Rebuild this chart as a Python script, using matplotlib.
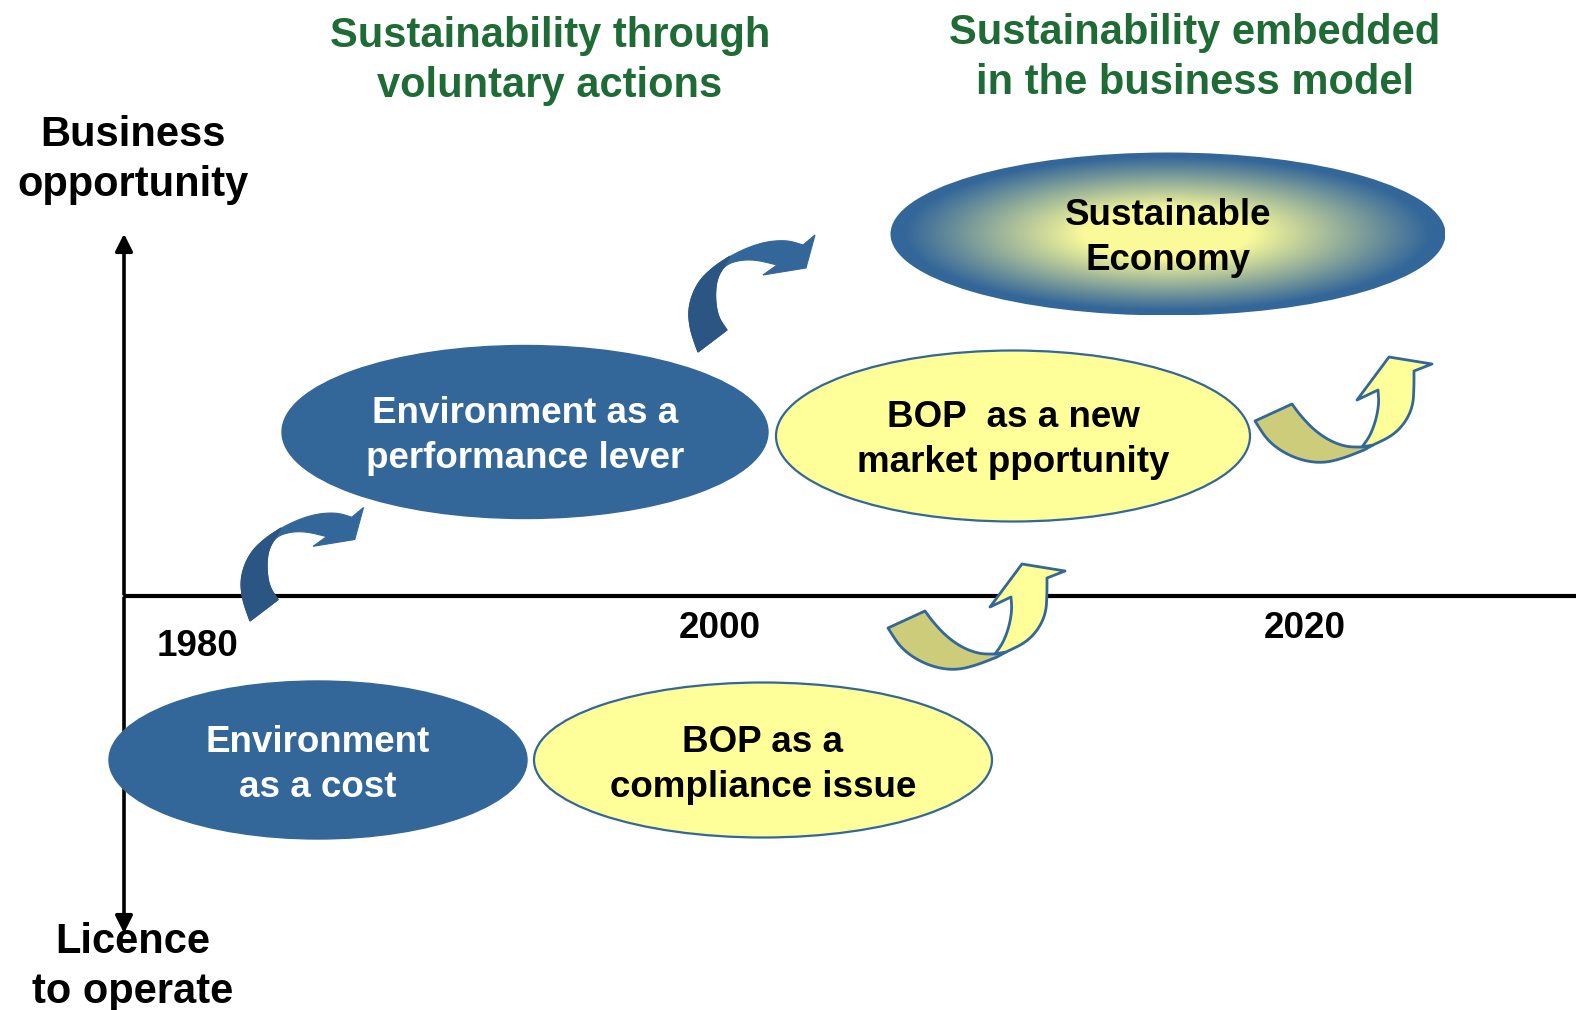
import numpy as np
import matplotlib.pyplot as plt
from matplotlib.patches import Ellipse, Polygon
from matplotlib.colors import LinearSegmentedColormap

# Stages of the diagram (pixel coordinates, y downwards)
stage_labels = ["Environment\nas a cost", "BOP as a\ncompliance issue",
                "Environment as a\nperformance lever", "BOP  as a new\nmarket pportunity",
                "Sustainable\nEconomy"]
stage_x = [318, 763, 525, 1013, 1168]
stage_y = [760, 760, 432, 436, 234]
stage_w = [418, 458, 486, 474, 555]
stage_h = [158, 155, 173, 171, 163]
stage_kind = ["blue", "yellow", "blue", "yellow", "gradient"]
stage_text_y = [765, 765, 436, 440, 238]

# Years along the horizontal axis
year_labels = ["1980", "2000", "2020"]
year_x = [198, 720, 1305]
year_y = [647, 629, 629]

# Headers
header_labels = ["Sustainability through\nvoluntary actions",
                 "Sustainability embedded\nin the business model"]
header_x = [550, 1195]
header_y = [61, 58]

# Curved arrows: offsets of the shape templates
blue_arrow_pos = [(-448, 269, 0.97), (0, 0, 1.0)]
yellow_arrow_pos = [(0, 0), (367, -207)]

BLUE = "#336699"
DARK_BLUE = "#2B5582"
YELLOW = "#FFFF99"
KHAKI = "#CCCC7A"
GREEN = "#1E6B35"
FONT = ["Liberation Sans", "DejaVu Sans"]

# Template shapes, read at the position of the upper blue arrow / lower yellow arrow
blue_outer_edge = [(698, 352), (690, 330), (688, 307), (697, 283), (713, 267), (737, 252),
                   (763, 242), (787, 240), (803, 245)]
blue_head = [(815, 235), (806, 268), (763, 275)]
blue_inner_edge = [(777, 265), (757, 260), (740, 260), (725, 265), (717, 278), (715, 297),
                   (718, 317), (727, 330)]
blue_dark_outer = [(698, 352), (690, 330), (688, 307), (697, 283), (713, 267), (730, 256)]
blue_dark_inner = [(725, 265), (717, 278), (715, 297), (718, 317), (727, 330)]

khaki_top = [(925, 611), (933, 622), (947, 637), (963, 648), (980, 654), (995, 654)]
khaki_joint = [(1006, 652)]
khaki_bottom = [(997, 657), (977, 665), (957, 670), (937, 668), (917, 660), (900, 647), (888, 628)]
yellow_inner = [(995, 654), (1003, 643), (1009, 627), (1012, 610), (1011, 597)]
yellow_head = [(990, 607), (1022, 564), (1065, 571)]
yellow_outer = [(1047, 578), (1047, 593), (1046, 613), (1038, 630), (1025, 643), (1006, 652)]


def smooth(points, n=3):
    # Chaikin corner cutting, ends kept
    pts = np.array(points, dtype=float)
    for _ in range(n):
        if len(pts) < 3:
            break
        q = 0.75 * pts[:-1] + 0.25 * pts[1:]
        r = 0.25 * pts[:-1] + 0.75 * pts[1:]
        mid = np.empty((2 * len(q), 2))
        mid[0::2] = q
        mid[1::2] = r
        pts = np.vstack([pts[:1], mid[1:-1], pts[-1:]])
    return pts


def place(pts, dx, dy, s=1.0, ox=698, oy=352):
    pts = np.array(pts, dtype=float)
    pts[:, 0] = ox + (pts[:, 0] - ox) * s + dx
    pts[:, 1] = oy + (pts[:, 1] - oy) * s + dy
    return pts


blue_body = np.vstack([smooth(blue_outer_edge), blue_head, smooth(blue_inner_edge)])
blue_dark = np.vstack([smooth(blue_dark_outer), smooth(blue_dark_inner)])
khaki_body = np.vstack([smooth(khaki_top), khaki_joint, smooth(khaki_bottom)])
yellow_body = np.vstack([smooth(yellow_inner), yellow_head, smooth(yellow_outer)])

fig = plt.figure(figsize=(15.76, 10.10), dpi=100)
ax = fig.add_axes([0, 0, 1, 1])
ax.set_xlim(0, 1576)
ax.set_ylim(1010, 0)
ax.axis("off")

# axes of the diagram
ax.plot([124, 1576], [596, 596], color="black", lw=3, zorder=1, solid_capstyle="butt")
ax.annotate("", xy=(124, 231), xytext=(124, 597),
            arrowprops=dict(arrowstyle="-|>", lw=2.6, color="black", mutation_scale=26), zorder=1)
ax.annotate("", xy=(124, 936), xytext=(124, 595),
            arrowprops=dict(arrowstyle="-|>", lw=2.6, color="black", mutation_scale=26), zorder=1)

# ellipses
yb = np.array([0x33, 0x66, 0x99]) / 255
yy = np.array([0xFA, 0xFA, 0x99]) / 255
grad_cmap = LinearSegmentedColormap.from_list("grad", [(0, yy), (0.3, yy), (0.95, yb), (1, yb)])
for lab, x, y, w, h, kind, ty in zip(stage_labels, stage_x, stage_y, stage_w, stage_h,
                                      stage_kind, stage_text_y):
    if kind == "blue":
        e = Ellipse((x, y), w, h, facecolor=BLUE, edgecolor=BLUE, lw=1, zorder=2)
        ax.add_patch(e)
        tc = "white"
    elif kind == "yellow":
        e = Ellipse((x, y), w, h, facecolor=YELLOW, edgecolor=BLUE, lw=1.6, zorder=2)
        ax.add_patch(e)
        tc = "black"
    else:
        e = Ellipse((x, y), w, h, facecolor="none", edgecolor="none", zorder=2)
        ax.add_patch(e)
        gx, gy = np.meshgrid(np.linspace(-1, 1, 400), np.linspace(-1, 1, 200))
        r = np.sqrt(gx ** 2 + gy ** 2)
        im = ax.imshow(r, cmap=grad_cmap, vmin=0, vmax=1.0, aspect="auto", zorder=2,
                       extent=(x - w / 2, x + w / 2, y + h / 2, y - h / 2), interpolation="bilinear")
        im.set_clip_path(e)
        tc = "black"
    ax.text(x, ty, lab, ha="center", va="center", color=tc, fontsize=26.5,
            fontweight="bold", family=FONT, zorder=4, linespacing=1.36)

# blue curved arrows
for dx, dy, s in blue_arrow_pos:
    ax.add_patch(Polygon(place(blue_body, dx, dy, s), closed=True, facecolor=BLUE,
                         edgecolor=BLUE, lw=0.8, zorder=3))
    ax.add_patch(Polygon(place(blue_dark, dx, dy, s), closed=True, facecolor=DARK_BLUE,
                         edgecolor=DARK_BLUE, lw=0.8, zorder=3))

# yellow curved arrows
for dx, dy in yellow_arrow_pos:
    ax.add_patch(Polygon(place(khaki_body, dx, dy), closed=True, facecolor=KHAKI,
                         edgecolor=BLUE, lw=2, zorder=3, joinstyle="round"))
    ax.add_patch(Polygon(place(yellow_body, dx, dy), closed=True, facecolor=YELLOW,
                         edgecolor=BLUE, lw=2, zorder=3, joinstyle="round"))

# years
for lab, x, y in zip(year_labels, year_x, year_y):
    ax.text(x, y, lab, ha="center", va="center", fontsize=26.5, fontweight="bold",
            family=FONT, zorder=4)

# headers
for lab, x, y in zip(header_labels, header_x, header_y):
    ax.text(x, y, lab, ha="center", va="center", fontsize=30, fontweight="bold",
            color=GREEN, family=FONT, linespacing=1.3)

ax.text(133, 160, "Business\nopportunity", ha="center", va="center", fontsize=30,
        fontweight="bold", family=FONT, linespacing=1.3)
ax.text(133, 967, "Licence\nto operate", ha="center", va="center", fontsize=30,
        fontweight="bold", family=FONT, linespacing=1.3, zorder=4)

fig.savefig("out.png", dpi=100)
